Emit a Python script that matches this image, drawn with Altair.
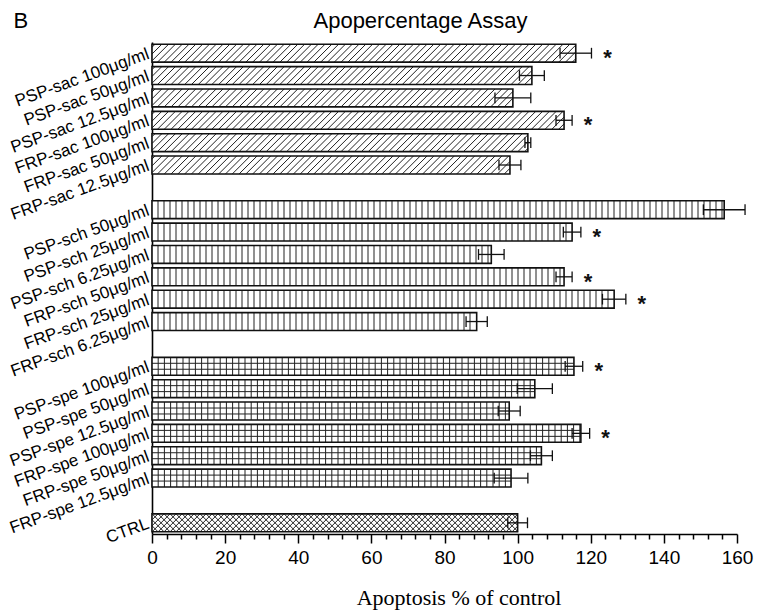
import json
import altair as alt
import pandas as pd

# ---------------- data ----------------
labels = [
    "PSP-sac 100μg/ml", "PSP-sac 50μg/ml", "PSP-sac 12.5μg/ml",
    "FRP-sac 100μg/ml", "FRP-sac 50μg/ml", "FRP-sac 12.5μg/ml",
    "PSP-sch 50μg/ml", "PSP-sch 25μg/ml", "PSP-sch 6.25μg/ml",
    "FRP-sch 50μg/ml", "FRP-sch 25μg/ml", "FRP-sch 6.25μg/ml",
    "PSP-spe 100μg/ml", "PSP-spe 50μg/ml", "PSP-spe 12.5μg/ml",
    "FRP-spe 100μg/ml", "FRP-spe 50μg/ml", "FRP-spe 12.5μg/ml",
    "CTRL",
]
groups = ["sac"] * 6 + ["sch"] * 6 + ["spe"] * 6 + ["ctrl"]
values = [115.9, 103.9, 98.7, 112.7, 102.8, 97.9,
          156.5, 114.9, 92.8, 112.7, 126.4, 88.8,
          115.4, 104.7, 97.7, 117.3, 106.5, 98.2,
          100.0]
errors = [4.3, 3.4, 4.9, 2.2, 0.8, 3.0,
          5.7, 2.4, 3.5, 2.2, 3.2, 2.9,
          2.4, 4.8, 3.0, 2.4, 3.0, 4.6,
          2.7]
significant = [True, False, False, True, False, False,
               False, True, False, True, True, False,
               True, False, False, True, False, False,
               False]
x_ticks = list(range(0, 161, 4))

# ---------------- layout ----------------
W, H = 585, 492
XMAX = 160
NSLOT = 22
SX = W / XMAX
SY = H / NSLOT
HALF = 0.4

gidx = {"sac": 0, "sch": 1, "spe": 2, "ctrl": 3}
slots = [i + gidx[g] for i, g in enumerate(groups)]

bars = pd.DataFrame({"label": labels, "group": groups, "value": values,
                     "err": errors, "sig": significant, "slot": slots})
bars["y0"] = bars.slot - HALF
bars["y1"] = bars.slot + HALF
bars["lo"] = bars.value - bars.err
bars["hi"] = bars.value + bars.err
bars["c0"] = bars.slot - 0.24
bars["c1"] = bars.slot + 0.24
bars["zero"] = 0.0

caps = pd.concat([bars.assign(cx=bars.lo), bars.assign(cx=bars.hi)], ignore_index=True)
stars = bars[bars.sig].reset_index(drop=True)

# ---------------- hatching derived from the bar values ----------------
segs = []


def add(x1, x2, y1, y2):
    segs.append({"x1": x1, "x2": x2, "y1": y1, "y2": y2})


def diagonals(v, s, spacing, rising, phase=0.0):
    vpx = v * SX
    hp = 2 * HALF * SY
    p = -hp + phase
    while p < vpx:
        t0 = max(0.0, -p / hp)
        t1 = min(1.0, (vpx - p) / hp)
        if t1 > t0:
            if rising:
                ya, yb = s + HALF - 2 * HALF * t0, s + HALF - 2 * HALF * t1
            else:
                ya, yb = s - HALF + 2 * HALF * t0, s - HALF + 2 * HALF * t1
            add((p + t0 * hp) / SX, (p + t1 * hp) / SX, ya, yb)
        p += spacing


def verticals(v, s, spacing):
    x = spacing
    while x < v * SX - 1.0:
        add(x / SX, x / SX, s - HALF, s + HALF)
        x += spacing


def horizontals(v, s, n):
    for k in range(1, n):
        y = s - HALF + 2 * HALF * k / n
        add(0.0, v, y, y)


for v, s, g in zip(values, slots, groups):
    if g == "sac":
        diagonals(v, s, 6.8, True, 3.0)
    elif g == "sch":
        verticals(v, s, 6.0)
    elif g == "spe":
        verticals(v, s, 6.2)
        horizontals(v, s, 3)
    else:
        diagonals(v, s, 6.0, True, 0.0)
        diagonals(v, s, 6.0, False, 0.0)

hatch = pd.DataFrame(segs)

# ---------------- axes ----------------
names = [""] * NSLOT
for s, lab in zip(slots, labels):
    names[s] = lab
y_label_expr = json.dumps(names, ensure_ascii=False) + "[datum.value]"

xscale = alt.Scale(domain=[0, XMAX], nice=False, zero=False)
yscale = alt.Scale(domain=[NSLOT - 0.5, -0.5], nice=False, zero=False)

FONT = "Liberation Sans"

x_axis = alt.Axis(
    values=x_ticks,
    labelExpr="datum.value % 20 === 0 ? datum.label : ''",
    tickSize={"condition": {"test": "datum.value % 20 === 0", "value": 9}, "value": 5},
    tickColor="black", tickWidth=1.5,
    domainColor="black", domainWidth=1.6,
    grid=False,
    labelFont=FONT, labelFontSize=19, labelColor="black", labelPadding=5,
    labelOverlap=False, labelFlush=False,
    title="Apoptosis % of control",
    titleFont="Liberation Serif", titleFontSize=22, titleFontWeight="normal",
    titleColor="black", titleX=W / 2 + 14, titleY=70,
    titleAlign="center", titleBaseline="alphabetic",
)

top_axis = alt.Axis(
    orient="top", domain=False, ticks=False, labels=False, grid=False,
    title="Apopercentage Assay",
    titleFont=FONT, titleFontSize=22, titleFontWeight="normal", titleColor="black",
    titleX=268, titleY=-15, titleAlign="center", titleBaseline="alphabetic",
)

y_axis = alt.Axis(
    values=slots,
    labelExpr=y_label_expr,
    labelAngle=340, labelAlign="right", labelBaseline="middle",
    labelFont=FONT, labelFontSize=17, labelColor="black", labelPadding=4,
    labelOverlap=False, labelBound=False, labelFlush=False,
    ticks=False, grid=False,
    domainColor="black", domainWidth=1.6,
    title="B", titleAngle=0, titleX=-139, titleY=-15,
    titleAlign="left", titleBaseline="alphabetic",
    titleFont=FONT, titleFontSize=22, titleFontWeight="normal", titleColor="black",
)


def X(field, axis=None):
    return alt.X(field, scale=xscale, axis=axis)


def Y(field):
    return alt.Y(field, scale=yscale, axis=y_axis)


# ---------------- layers ----------------
base = alt.Chart(bars).mark_rect(fill="white", strokeWidth=0).encode(
    x=X("zero:Q", x_axis), x2="value:Q", y=Y("y0:Q"), y2="y1:Q",
)

hatch_layer = alt.Chart(hatch).mark_rule(color="#222222", strokeWidth=1).encode(
    x=X("x1:Q"), x2="x2:Q", y=Y("y1:Q"), y2="y2:Q",
)

outline = alt.Chart(bars).mark_rect(fillOpacity=0, stroke="#111111", strokeWidth=1.6).encode(
    x=X("zero:Q"), x2="value:Q", y=Y("y0:Q"), y2="y1:Q",
)

err_line = alt.Chart(bars).mark_rule(color="#111111", strokeWidth=1.3).encode(
    x=X("lo:Q"), x2="hi:Q", y=Y("slot:Q"),
)

err_caps = alt.Chart(caps).mark_rule(color="#111111", strokeWidth=1.3).encode(
    x=X("cx:Q"), y=Y("c0:Q"), y2="c1:Q",
)

star_layer = alt.Chart(stars).mark_text(
    text="*", font=FONT, fontSize=22, fontWeight="bold", color="#111111",
    align="center", baseline="alphabetic", dx=16, dy=12,
).encode(
    x=X("hi:Q", top_axis), y=Y("slot:Q"),
)

chart = alt.layer(base, hatch_layer, outline, err_line, err_caps, star_layer).properties(
    width=W,
    height=H,
    background="white",
    padding={"left": 144, "top": 34, "right": 18, "bottom": 78},
    autosize=alt.AutoSizeParams(type="none"),
).resolve_axis(x="independent").configure_view(stroke=None)

chart.save("out.html", embed_options={"renderer": "svg", "actions": False})
